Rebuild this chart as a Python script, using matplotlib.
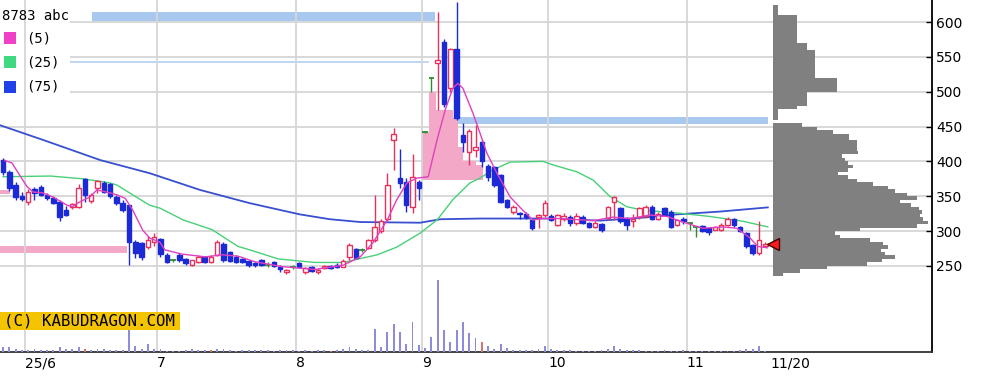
import numpy as np
import matplotlib.pyplot as plt
from matplotlib.patches import Rectangle

# daily candles (trading-day index 0 = 2025/05/27)
opens = [402, 385, 366, 350, 342, 361, 363, 352, 347, 342, 330, 335, 335, 375, 343, 362, 369, 367, 349, 340,
         337, 284, 283, 277, 284, 288, 265, 258, 265, 260, 252, 256, 263, 256, 266, 281, 270, 263, 260, 257,
         254, 258, 252, 255, 249, 242, 249, 254, 242, 248, 241, 247, 250, 252, 249, 263, 274, 273, 276, 287,
         300, 317, 431, 376, 371, 334, 370, 442, 520, 541, 572, 505, 562, 438, 414, 416, 428, 394, 392, 380,
         344, 328, 326, 324, 316, 320, 323, 321, 309, 317, 320, 311, 320, 312, 306, 310, 319, 342, 333, 318,
         314, 320, 321, 335, 318, 333, 328, 309, 318, 312, 306, 307, 304, 302, 302, 309, 318, 306, 297, 280,
         268, 279]
highs = [405, 387, 370, 356, 360, 363, 366, 355, 350, 344, 336, 341, 368, 376, 355, 374, 372, 369, 352, 345,
         338, 287, 285, 293, 297, 290, 268, 260, 268, 262, 259, 265, 264, 266, 287, 285, 272, 266, 262, 259,
         256, 260, 255, 257, 251, 246, 252, 256, 249, 250, 247, 252, 252, 254, 260, 283, 276, 276, 289, 352,
         318, 384, 448, 418, 376, 411, 374, 443, 521, 615, 575, 563, 629, 455, 447, 452, 431, 396, 394, 382,
         346, 338, 327, 327, 318, 324, 344, 324, 325, 326, 323, 326, 323, 313, 314, 312, 336, 350, 335, 320,
         325, 335, 337, 337, 327, 335, 330, 318, 320, 313, 307, 309, 306, 308, 311, 320, 319, 307, 299, 282,
         314, 285]
lows = [380, 358, 345, 343, 338, 345, 350, 345, 339, 315, 322, 332, 333, 342, 340, 355, 354, 348, 338, 328,
        251, 261, 259, 275, 278, 263, 254, 256, 256, 252, 250, 254, 254, 254, 264, 255, 255, 254, 254, 249,
        248, 250, 248, 248, 242, 238, 245, 247, 239, 241, 239, 245, 245, 247, 248, 259, 260, 270, 274, 284,
        297, 315, 387, 362, 327, 326, 345, 441, 500, 474, 478, 500, 460, 413, 395, 407, 392, 372, 363, 340,
        333, 325, 318, 317, 302, 304, 320, 314, 307, 315, 308, 309, 310, 305, 305, 299, 316, 316, 311, 301,
        306, 318, 319, 316, 316, 321, 305, 307, 310, 302, 292, 298, 295, 301, 300, 307, 306, 298, 276, 266,
        266, 277]
closes = [385, 362, 349, 346, 356, 355, 352, 347, 341, 320, 323, 339, 362, 352, 352, 372, 356, 350, 340, 330,
          284, 269, 263, 287, 292, 267, 256, 258, 258, 254, 258, 263, 255, 263, 284, 259, 257, 256, 256, 251,
          251, 252, 252, 250, 245, 244, 249, 249, 247, 243, 244, 250, 247, 249, 257, 280, 262, 273, 287, 306,
          315, 366, 440, 369, 337, 378, 362, 442, 520, 545, 482, 562, 462, 428, 444, 421, 400, 378, 366, 342,
          335, 334, 324, 320, 305, 323, 340, 316, 323, 322, 311, 321, 312, 306, 312, 302, 334, 349, 314, 309,
          318, 333, 334, 318, 325, 323, 306, 316, 314, 312, 306, 300, 298, 306, 309, 318, 309, 300, 278, 268,
          287, 282]
volumes = [5, 5, 3, 2, 2, 3, 2, 2, 2, 5, 3, 3, 5, 3, 2, 3, 3, 2, 2, 2,
           22, 6, 3, 8, 3, 3, 1, 1, 1, 2, 3, 2, 2, 2, 3, 3, 2, 1, 2, 2,
           2, 2, 2, 1, 2, 2, 2, 1, 2, 1, 2, 2, 1, 2, 3, 5, 3, 2, 2, 23,
           5, 20, 28, 20, 8, 30, 7, 4, 15, 72, 22, 10, 22, 30, 19, 14, 10, 6, 3, 8,
           4, 2, 2, 2, 2, 3, 6, 3, 2, 2, 2, 1, 1, 1, 1, 2, 3, 6, 3, 2,
           2, 2, 1, 1, 1, 2, 1, 1, 2, 1, 1, 1, 1, 1, 1, 1, 1, 2, 3, 3,
           6, 1]
vol_red_days = [13, 33, 52, 76]

# moving averages (5 / 25 / 75 days)
ma5_x = [0.3, 1.4, 3.8, 4.8, 6.3, 7.9, 10.2, 11, 12.2, 13.8, 14.9, 16.5, 18.1, 19.4, 20.6, 22.2, 23.3, 24.9,
         25.7, 28.4, 32.1, 34.8, 37.3, 40, 44.3, 49.5, 54, 56.7, 58.7, 61, 62.5, 64.1, 65.7, 67.5, 68.9,
         70.2, 71.4, 72.2, 73.0, 74.6, 75.7, 76.8, 78.4, 80.5, 82.5, 84.1, 85.7, 88.4, 93.7, 96.8, 99.5,
         102.7, 105.4, 107.9, 111.1, 114.3, 116.5, 118.6, 119.8, 121.3]
ma5_y = [401, 398, 364, 356, 355, 349, 337, 335, 342, 349, 359, 356, 352, 347, 330, 301, 290, 284,
         273, 267, 263, 266, 264, 256, 249, 245, 251, 263, 283, 316, 345, 369, 376, 378, 431,
         474, 505, 512, 505, 469, 441, 412, 383, 349, 330, 316, 318, 318, 315, 320, 318,
         323, 321, 313, 304, 306, 304, 290, 278, 276]
ma25_x = [0, 7.5, 12.7, 14.9, 17, 18.1, 19.7, 23.3, 24.9, 28.6, 33.2, 37.3, 39.2, 43.7, 49.5, 54, 59.4,
          62.5, 66.2, 68.9, 71.4, 74.1, 75.7, 77.8, 80.5, 85.7, 87.3, 91.1, 93.7, 96.3, 99, 101.6, 107,
          112.2, 117.5, 121.4]
ma25_y = [378, 379, 375, 372, 369, 366, 357, 337, 333, 316, 302, 278, 273, 260, 255, 255, 266,
          277, 297, 316, 345, 369, 376, 388, 399, 400, 395, 385, 373, 350, 335, 330, 326,
          321, 314, 306]
ma75_x = [-0.5, 6.3, 15.4, 23.3, 31.3, 39.2, 47.1, 51.9, 56.7, 66.2, 69.4, 75.7, 86.8, 94.8, 101.1, 107,
          113.8, 121.4]
ma75_y = [452, 431, 402, 383, 359, 340, 324, 317, 313, 312, 317, 318, 318, 315, 319, 324,
          328, 334]

# price zones
blue_zones = [(14.1, 68.6, 601, 614), (72.2, 121.4, 454, 464)]
thin_zone = (10.6, 67.5, 542.6)
pink_zones = [(-0.5, 19.7, 268, 279), (-0.5, 1.1, 353, 359)]
gap_x = [66.5, 67.6, 68.7, 71.4, 72.2, 73.0, 75.0, 76.2]
gap_top = [442, 500, 474, 462, 420, 400, 395, 395]
gap_bottom = 373

# volume-at-price profile, 5 yen bins from 235
profile_vals = [10, 27, 54, 94, 109, 122, 112, 108, 115, 110, 97, 67, 62, 87, 144, 155, 150, 147, 149, 146,
                138, 127, 144, 134, 122, 115, 100, 84, 75, 65, 75, 80, 75, 72, 69, 85, 84, 84, 84, 76,
                76, 60, 44, 29, 0, 5, 5, 5, 24, 34, 34, 34, 34, 64, 64, 64, 64, 42, 42, 42,
                42, 42, 42, 42, 42, 34, 34, 24, 24, 24, 24, 24, 24, 24, 24, 5, 5, 5]
profile_bins = 235 + 5 * np.arange(len(profile_vals))
last_price = 282

month_starts = [3.5, 24.5, 46.5, 66.5, 86.5, 108.5]
xtick_pos = month_starts + [121.8]
xtick_labels = ['25/6', '7', '8', '9', '10', '11', '11/20']
price_ticks = [250, 300, 350, 400, 450, 500, 550, 600]

UP = '#e8305a'
DOWN = '#1c2ad6'
DOJI = '#2e8b2e'
W, H = 993, 379

fig = plt.figure(figsize=(W / 100, H / 100), dpi=100)
ax = fig.add_axes([0, 27 / H, 932 / W, 352 / H])
ax.set_xlim(-0.476, 147.46)
ax.set_ylim(126.5, 631.6)

# volume on its own scale (created first: twinx moves ticks to the left)
vax = ax.twinx()
idx = np.arange(len(closes))
vcols = ['#d07878' if i in vol_red_days else '#8c8cd8' for i in idx]
vax.bar(idx, volumes, width=0.3, color=vcols)
vax.set_ylim(0, 352)
vax.set_axis_off()

for p in price_ticks:
    ax.axhline(p, color='#d6d6d6', lw=1.3, zorder=0.5)
for m in month_starts:
    ax.axvline(m, color='#d6d6d6', lw=1.3, zorder=2.5)

# zones
for x0, x1, lo, hi in blue_zones:
    ax.add_patch(Rectangle((x0, lo), x1 - x0, hi - lo, color='#a8c8f0', lw=0, zorder=1))
ax.plot([thin_zone[0], thin_zone[1]], [thin_zone[2]] * 2, color='#b4d0f2', lw=1.2, zorder=1)
for x0, x1, lo, hi in pink_zones:
    ax.add_patch(Rectangle((x0, lo), x1 - x0, hi - lo, color='#f4a8c8', lw=0, zorder=1))
ax.fill_between(gap_x, gap_bottom, gap_top, step='post', color='#f4a8c8', lw=0, zorder=1.5)

# legend background
ax.add_patch(Rectangle((0, 1 - 98 / H), 70 / W, 98 / H, transform=fig.transFigure,
                       color='white', lw=0, zorder=2))

# moving averages
ax.plot(ma75_x, ma75_y, color='#3850d0', lw=1.3, zorder=3)
ax.plot(ma25_x, ma25_y, color='#48d078', lw=1.0, zorder=3)

# candles
o, h, l, c = map(np.array, (opens, highs, lows, closes))
cols = np.where(c > o, UP, np.where(c < o, DOWN, DOJI))
ax.vlines(idx, l, h, colors=cols, lw=1, zorder=4)
up = c > o
dn = c < o
eq = c == o
ax.bar(idx[up], (c - o)[up], bottom=o[up], width=0.7, facecolor='white', edgecolor=UP, lw=1, zorder=5)
ax.bar(idx[dn], (o - c)[dn], bottom=c[dn], width=0.7, facecolor=DOWN, edgecolor=DOWN, lw=1, zorder=5)
ax.hlines(c[eq], idx[eq] - 0.45, idx[eq] + 0.45, colors=DOJI, lw=1.3, zorder=5)

ax.plot(ma5_x, ma5_y, color='#e040c0', lw=1.0, zorder=6)

# axes styling
for s in ['left', 'top']:
    ax.spines[s].set_visible(False)
ax.spines['right'].set_linewidth(1.3)
ax.spines['bottom'].set_linewidth(1.3)
ax.spines['bottom'].set_color('#333333')
ax.yaxis.tick_right()
ax.yaxis.set_label_position('right')
ax.set_yticks(price_ticks)
ax.tick_params(axis='y', direction='in', length=4, width=1, labelsize=10, pad=3,
               left=False, labelleft=False, right=True, labelright=True)
ax.set_xticks(xtick_pos, xtick_labels)
ax.tick_params(axis='x', length=0, labelsize=10, pad=3)
for t in ax.get_xticklabels():
    t.set_ha('left')

# volume profile
pax = fig.add_axes([773 / W, 27 / H, 159 / W, 352 / H])
pax.barh(profile_bins, profile_vals, height=5, align='edge', color='#808080', lw=0)
pax.set_xlim(0, 159)
pax.set_ylim(126.5, 631.6)
pax.set_axis_off()
pax.plot([122.3], [last_price], marker='<', ms=9, mfc='#ff1a1a', mec='#400000', mew=1,
         transform=ax.transData, clip_on=False, zorder=10)

# legend
mono = 'DejaVu Sans Mono'
fig.text(2 / W, 1 - 16 / H, '8783 abc', family=mono, fontsize=10, va='center', ha='left')
for name, col, yc in [('(5)', '#f040c8', 38), ('(25)', '#40d880', 62), ('(75)', '#2040e8', 87)]:
    fig.patches.append(Rectangle((4 / W, 1 - (yc + 6) / H), 12 / W, 12 / H,
                                 transform=fig.transFigure, color=col, lw=0))
    fig.text(26 / W, 1 - yc / H, name, family=mono, fontsize=10, va='center', ha='left')

# copyright box
fig.patches.append(Rectangle((0, 1 - 330 / H), 180 / W, 18 / H, transform=fig.transFigure,
                             color='#f5c400', lw=0, zorder=8))
fig.text(4 / W, 1 - 321 / H, '(C) KABUDRAGON.COM', family=mono, fontsize=11.3,
         va='center', ha='left', zorder=9)

fig.savefig('out.png', dpi=100)
